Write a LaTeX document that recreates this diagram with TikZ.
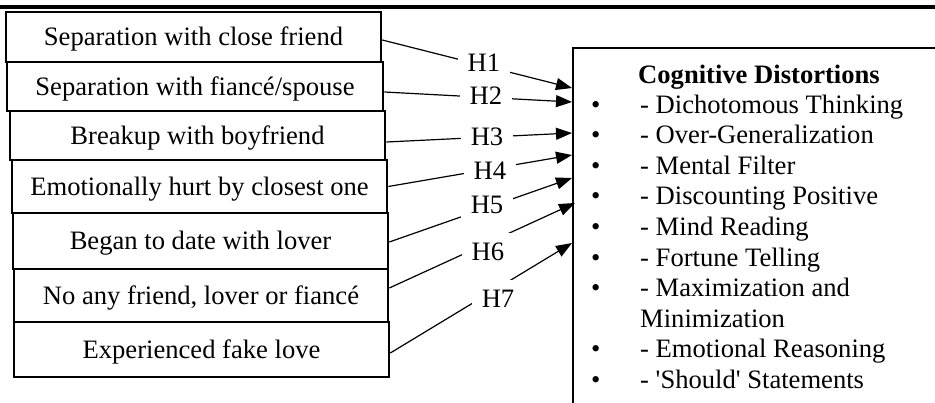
\documentclass[tikz,border=0pt]{standalone}
\usepackage{fontspec}
\setmainfont{Liberation Serif}
\newfontfamily\tnr{Liberation Serif}
\usetikzlibrary{arrows.meta}
\tikzset{
  txt/.style={font=\tnr\fontsize{26.6}{30.6}\selectfont, inner sep=0pt},
  causebox/.style={txt, draw, line width=2.6pt, text height=17.6pt, text depth=0pt, anchor=center},
  hlab/.style={txt, fill=white, inner xsep=10pt, inner ysep=10pt, text height=17.6pt, text depth=0pt},
  conn/.style={line width=1.2pt, -{Triangle[length=16pt,width=12pt]}},
  listitem/.style={txt, anchor=base west},
  bulletmark/.style={txt, anchor=base west},
  rule/.style={line width=4pt},
}
\begin{document}
\begin{tikzpicture}[x=1pt,y=-1pt]
\useasboundingbox (0,0) rectangle (935,402);
% top rule
\coordinate (rl) at (0,7);
\coordinate (rr) at (935,7);
\draw[rule] (rl) -- (rr);
% cause boxes
\node[causebox, minimum width=375pt, minimum height=50pt] (b1) at (193.5,37) {Separation with close friend};
\node[causebox, minimum width=376pt, minimum height=49pt] (b2) at (195,86.5) {Separation with fiancé/spouse};
\node[causebox, minimum width=375pt, minimum height=49pt] (b3) at (197.5,135.5) {Breakup with boyfriend};
\node[causebox, minimum width=375pt, minimum height=53pt] (b4) at (199.5,186.5) {Emotionally hurt by closest one};
\node[causebox, minimum width=375pt, minimum height=56pt] (b5) at (200.5,241) {Began to date with lover};
\node[causebox, minimum width=374pt, minimum height=53pt] (b6) at (201,295.5) {No any friend, lover or fiancé};
\node[causebox, minimum width=375pt, minimum height=55pt] (b7) at (201.5,349.5) {Experienced fake love};
% cognitive distortions box
\node[draw, line width=2.4pt, minimum width=420pt, minimum height=400pt, anchor=north west, inner sep=0pt] (cd) at (572,47) {};
% arrow targets on the box
\coordinate (t1) at (572,88);
\coordinate (t2) at (572,102);
\coordinate (t3) at (572,133);
\coordinate (t4) at (572,155);
\coordinate (t5) at (572,178);
\coordinate (t6) at (575,203);
\coordinate (t7) at (572,243);
% connectors
\draw[conn] ([yshift=-3pt]b1.east) -- (t1);
\draw[conn] ([yshift=-5.5pt]b2.east) -- (t2);
\draw[conn] ([yshift=-6.5pt]b3.east) -- (t3);
\draw[conn] (b4.east) -- (t4);
\draw[conn] ([yshift=-1pt]b5.east) -- (t5);
\draw[conn] ([yshift=7.5pt]b6.east) -- (t6);
\draw[conn] ([yshift=-3.5pt]b7.east) -- (t7);
% hypothesis labels
\node[hlab] (h1) at (484,63) {H1};
\node[hlab] (h2) at (486,96) {H2};
\node[hlab] (h3) at (487,137) {H3};
\node[hlab] (h4) at (490,171) {H4};
\node[hlab] (h5) at (487,205) {H5};
\node[hlab] (h6) at (488,252) {H6};
\node[hlab] (h7) at (498,299) {H7};
% list
\node[listitem] (title) at (638,83) {\bfseries Cognitive Distortions};
\node[bulletmark] (d1) at (591,113) {•};
\node[listitem] (l1) at (640,113) {- Dichotomous Thinking};
\node[bulletmark] (d2) at (591,143.6) {•};
\node[listitem] (l2) at (640,143.6) {- Over-Generalization};
\node[bulletmark] (d3) at (591,174.2) {•};
\node[listitem] (l3) at (640,174.2) {- Mental Filter};
\node[bulletmark] (d4) at (591,204.8) {•};
\node[listitem] (l4) at (640,204.8) {- Discounting Positive};
\node[bulletmark] (d5) at (591,235.4) {•};
\node[listitem] (l5) at (640,235.4) {- Mind Reading};
\node[bulletmark] (d6) at (591,266) {•};
\node[listitem] (l6) at (640,266) {- Fortune Telling};
\node[bulletmark] (d7) at (591,296.6) {•};
\node[listitem] (l7) at (640,296.6) {- Maximization and};
\node[listitem] (l7b) at (640,327.2) {Minimization};
\node[bulletmark] (d8) at (591,357.8) {•};
\node[listitem] (l8) at (640,357.8) {- Emotional Reasoning};
\node[bulletmark] (d9) at (591,388.4) {•};
\node[listitem] (l9) at (640,388.4) {- 'Should' Statements};
\end{tikzpicture}
\end{document}
